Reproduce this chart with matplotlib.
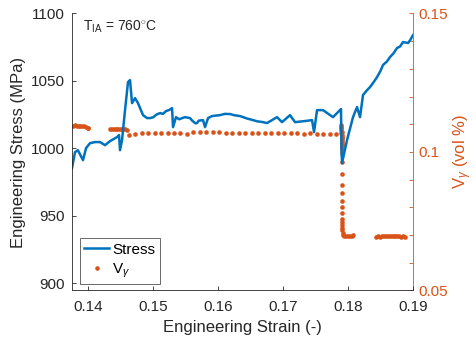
import matplotlib
matplotlib.use('Agg')
import matplotlib.pyplot as plt

plt.rcParams['font.family'] = ['Liberation Sans', 'DejaVu Sans']
plt.rcParams['mathtext.fontset'] = 'custom'
plt.rcParams['mathtext.rm'] = 'Liberation Sans'
plt.rcParams['mathtext.it'] = 'Liberation Sans:italic'

BLUE = '#0072BD'
ORANGE = '#D95319'

# engineering stress-strain curve (MPa)
strain = [0.1375, 0.13796, 0.1384, 0.13919, 0.13966, 0.14027, 0.14104, 0.14181,
          0.14258, 0.14335, 0.14443, 0.14474, 0.14489, 0.1452, 0.14566, 0.14612,
          0.14643, 0.14674, 0.1472, 0.14766, 0.14843, 0.14905, 0.14951, 0.1500,
          0.1505, 0.15105, 0.1515, 0.15197, 0.1525, 0.1529, 0.15305, 0.15351,
          0.1540, 0.1545, 0.1549, 0.15567, 0.1560, 0.1565, 0.15675, 0.1570,
          0.15767, 0.15798, 0.15844, 0.15906, 0.16029, 0.1610, 0.16183, 0.1625,
          0.16337, 0.1645, 0.16537, 0.1660, 0.1668, 0.16752, 0.16906, 0.16983,
          0.17106, 0.17183, 0.17337, 0.17445, 0.17476, 0.17522, 0.17614, 0.17768,
          0.17891, 0.17899, 0.17907, 0.17984, 0.18076, 0.18138, 0.18184, 0.1823,
          0.1829, 0.18338, 0.1840, 0.18446, 0.1850, 0.18538, 0.1860, 0.18646,
          0.1870, 0.18754, 0.1880, 0.18846, 0.18923, 0.1896, 0.19]
stress = [985.3, 997.1, 998.6, 991.2, 1000.1, 1003.8, 1004.6, 1004.6,
          1002.3, 1005.3, 1008.3, 1009.8, 998.6, 1006.1, 1028.3, 1049.1,
          1050.6, 1033.5, 1037.2, 1033.5, 1024.6, 1022.4, 1022.4, 1023.0,
          1025.0, 1026.1, 1025.5, 1027.6, 1028.5, 1029.8, 1015.7, 1023.1,
          1021.5, 1022.5, 1023.1, 1022.4, 1020.5, 1018.5, 1018.7, 1020.5,
          1020.9, 1015.7, 1022.4, 1023.9, 1024.6, 1025.5, 1025.4, 1024.5,
          1023.9, 1022.0, 1020.9, 1020.0, 1019.5, 1018.7, 1023.1, 1019.4,
          1024.6, 1019.4, 1020.2, 1020.9, 1012.0, 1028.3, 1028.3, 1023.1,
          1029.1, 998.6, 989.0, 1006.1, 1023.1, 1030.6, 1023.1, 1039.5,
          1043.0, 1045.4, 1049.5, 1052.8, 1057.5, 1061.8, 1064.5, 1067.7,
          1070.5, 1074.4, 1075.5, 1078.8, 1078.1, 1080.5, 1084.0]

# retained austenite fraction measurements
v_strain = [0.1376, 0.1379, 0.1382, 0.1385, 0.1388, 0.1391, 0.1394, 0.1397, 0.1399, 0.1400,
            0.1433, 0.1436, 0.1439, 0.1442, 0.1445, 0.1448, 0.1451, 0.1454, 0.1457, 0.1459,
            0.1462, 0.1472, 0.1482, 0.1492, 0.1502, 0.1512, 0.1522, 0.1532, 0.1542, 0.1552,
            0.1562, 0.1572, 0.1582, 0.1592, 0.1602, 0.1612, 0.1622, 0.1632, 0.1642, 0.1652,
            0.1662, 0.1672, 0.1682, 0.1692, 0.1702, 0.1712, 0.1722, 0.1732, 0.1742, 0.1752,
            0.1762, 0.1772, 0.1782,
            0.1789, 0.1789, 0.1789, 0.1789, 0.1790, 0.1789, 0.1790, 0.1790, 0.1790, 0.1790,
            0.1791, 0.1790, 0.1791, 0.1791, 0.1791, 0.1791, 0.1791, 0.1791, 0.1791, 0.1791,
            0.1791, 0.1791, 0.1791, 0.1791, 0.1791, 0.1791, 0.1791, 0.1791, 0.1792, 0.1792,
            0.1794, 0.1797, 0.1800, 0.1803, 0.1806, 0.1808,
            0.1843, 0.1846, 0.1849, 0.1852, 0.1855, 0.1858, 0.1861, 0.1864, 0.1867, 0.1870,
            0.1873, 0.1876, 0.1879, 0.1882, 0.1885, 0.1888]
v_gamma = [0.1095, 0.1096, 0.1094, 0.1095, 0.1093, 0.1094, 0.1093, 0.1091, 0.1088, 0.1085,
           0.1083, 0.1082, 0.1084, 0.1083, 0.1082, 0.1083, 0.1084, 0.1082, 0.1083, 0.1081,
           0.1063, 0.1066, 0.1068, 0.1069, 0.1069, 0.1070, 0.1069, 0.1069, 0.1068, 0.1065,
           0.1072, 0.1072, 0.1073, 0.1073, 0.1071, 0.1070, 0.1070, 0.1069, 0.1069, 0.1070,
           0.1069, 0.1068, 0.1069, 0.1068, 0.1069, 0.1068, 0.1067, 0.1066, 0.1067, 0.1066,
           0.1065, 0.1064, 0.1064,
           0.1097, 0.1090, 0.1085, 0.1079, 0.1073, 0.1067, 0.1061, 0.1055, 0.1049, 0.1042,
           0.1036, 0.1030, 0.1024, 0.1018, 0.1012, 0.0995, 0.0964, 0.0920, 0.0880, 0.0852,
           0.0823, 0.0800, 0.0778, 0.0759, 0.0747, 0.0736, 0.0727, 0.0718, 0.0708, 0.0700,
           0.0698, 0.0697, 0.0698, 0.0697, 0.0698, 0.0699,
           0.0694, 0.0695, 0.0694, 0.0695, 0.0696, 0.0695, 0.0696, 0.0695, 0.0696, 0.0695,
           0.0696, 0.0695, 0.0695, 0.0694, 0.0695, 0.0693]

x_ticks = [0.14, 0.15, 0.16, 0.17, 0.18, 0.19]
left_ticks = [900, 950, 1000, 1050, 1100]
right_ticks = [0.05, 0.06, 0.07, 0.08, 0.09, 0.10, 0.11, 0.12, 0.13, 0.14, 0.15]
right_labels = ['0.05', '', '', '', '', '0.1', '', '', '', '', '0.15']

fig = plt.figure(figsize=(4.76, 3.45), dpi=100)
ax = fig.add_axes([0.1513, 0.158, 0.7164, 0.8029])
ax2 = ax.twinx()

line, = ax.plot(strain, stress, color=BLUE, lw=1.8, label='Stress')
dots, = ax2.plot(v_strain, v_gamma, 'o', color=ORANGE, ms=3.3, mec='none',
                 label=r'V$_{\gamma}$')

# keep the stress curve above the dots
ax.set_zorder(ax2.get_zorder() + 1)
ax.patch.set_visible(False)

ax.set_xlim(0.1375, 0.19)
ax.set_ylim(894.5, 1100)
ax2.set_ylim(0.05, 0.15)

ax.set_xticks(x_ticks)
ax.set_xticklabels(['%.2f' % t for t in x_ticks])
ax.set_yticks(left_ticks)
ax2.set_yticks(right_ticks)
ax2.set_yticklabels(right_labels)

ax.tick_params(direction='in', length=3, width=0.6, labelsize=11, colors='#262626', pad=5)
ax.tick_params(axis='x', pad=7)
ax2.tick_params(direction='in', length=3, width=0.6, labelsize=11, colors=ORANGE, pad=4)

for a in (ax, ax2):
    a.spines['top'].set_visible(False)
ax.spines['right'].set_visible(False)
ax.spines['left'].set_color('#262626')
ax.spines['bottom'].set_color('#262626')
ax2.spines['left'].set_visible(False)
ax2.spines['bottom'].set_visible(False)
ax2.spines['right'].set_color(ORANGE)
for s in ('left', 'bottom'):
    ax.spines[s].set_linewidth(0.6)
ax2.spines['right'].set_linewidth(0.6)

ax.set_xlabel('Engineering Strain (-)', fontsize=12, color='#262626', labelpad=4)
ax.set_ylabel('Engineering Stress (MPa)', fontsize=12, color='#262626', labelpad=4)
ax2.set_ylabel(r'V$_{\gamma}$ (vol %)', fontsize=12, color=ORANGE, labelpad=2)

ax.text(0.1392, 1090, r'T$_{\mathrm{IA}}$ = 760$^{\circ}$C', fontsize=10,
        color='#262626', ha='left', va='center')

leg = ax.legend(handles=[line, dots], loc='lower left', bbox_to_anchor=(0.023, 0.023),
                borderaxespad=0, fontsize=11, frameon=True, fancybox=False,
                handlelength=1.6, handletextpad=0.2, borderpad=0.3, labelspacing=0.3,
                markerscale=1.0)
leg.get_frame().set_edgecolor('#262626')
leg.get_frame().set_linewidth(0.6)

fig.savefig('out.png', dpi=100)
